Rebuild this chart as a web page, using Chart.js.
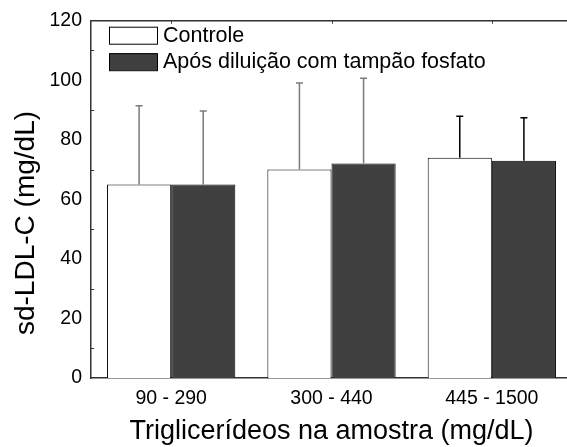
<!DOCTYPE html>
<html>
<head>
<meta charset="utf-8">
<script src="https://cdn.jsdelivr.net/npm/chart.js@4.4.1/dist/chart.umd.min.js"></script>
<style>
  html, body { margin: 0; padding: 0; background: #fff; overflow: hidden; }
  #wrap { width: 567px; height: 447px; overflow: hidden; }
</style>
</head>
<body>
<div id="wrap"><canvas id="ldlChart" width="580" height="447"></canvas></div>
<script>
// data
var categories = ['90 - 290', '300 - 440', '445 - 1500'];
var controle = [65, 70, 74];
var controleErr = [26.4, 29.1, 13.9];
var diluido = [65, 72, 73];
var diluidoErr = [24.7, 28.7, 14.4];
var yTicks = [0, 20, 40, 60, 80, 100, 120];

var errColors = ['#7a7a7a', '#7a7a7a', '#000000'];
var FONT = "'Liberation Sans', Arial, sans-serif";

// upper error bars with caps
var errorBars = {
    id: 'errorBars',
    afterDatasetsDraw: function (chart) {
        var ctx = chart.ctx;
        var yScale = chart.scales.y;
        ctx.save();
        chart.data.datasets.forEach(function (ds, i) {
            var meta = chart.getDatasetMeta(i);
            meta.data.forEach(function (bar, j) {
                var top = yScale.getPixelForValue(ds.data[j] + ds.errors[j]);
                ctx.strokeStyle = errColors[j];
                ctx.lineWidth = 1.5;
                ctx.beginPath();
                ctx.moveTo(bar.x, bar.y);
                ctx.lineTo(bar.x, top);
                ctx.moveTo(bar.x - 3.5, top);
                ctx.lineTo(bar.x + 3.5, top);
                ctx.stroke();
            });
        });
        ctx.restore();
    }
};

// legend inside the plot, minor ticks, y title
var decorations = {
    id: 'decorations',
    afterDraw: function (chart) {
        var ctx = chart.ctx;
        var area = chart.chartArea;
        var xs = chart.scales.x, ys = chart.scales.y;
        ctx.save();

        // inward ticks
        ctx.strokeStyle = '#333';
        ctx.lineWidth = 1;
        ctx.beginPath();
        for (var v = 10; v < 120; v += 20) {
            var py = Math.round(ys.getPixelForValue(v)) + 0.5;
            ctx.moveTo(area.left, py);
            ctx.lineTo(area.left + 3, py);
        }
        categories.forEach(function (c, i) {
            var px = Math.round(xs.getPixelForValue(i)) + 0.5;
            ctx.moveTo(px, area.top);
            ctx.lineTo(px, area.top + 3);
        });
        ctx.stroke();

        // legend
        ctx.font = '21.5px ' + FONT;
        ctx.textBaseline = 'middle';
        ctx.textAlign = 'left';
        chart.data.datasets.forEach(function (ds, i) {
            var bx = area.left + 18, by = area.top + 6 + i * 26.5;
            ctx.fillStyle = ds.backgroundColor;
            ctx.fillRect(bx, by, 48, 17);
            ctx.strokeStyle = '#000';
            ctx.lineWidth = 1;
            ctx.strokeRect(bx + 0.5, by + 0.5, 48, 17);
            ctx.fillStyle = '#000';
            ctx.fillText(ds.label, bx + 54, by + 9);
        });

        // y title
        ctx.translate(26, 223);
        ctx.rotate(-Math.PI / 2);
        ctx.textAlign = 'center';
        ctx.font = '28px ' + FONT;
        ctx.fillText('sd-LDL-C (mg/dL)', 0, 0);
        ctx.restore();
    }
};

var ctx = document.getElementById('ldlChart');
var chart = new Chart(ctx, {
    type: 'bar',
    data: {
        labels: categories,
        datasets: [{
            label: 'Controle',
            data: controle,
            errors: controleErr,
            backgroundColor: '#ffffff',
            borderColor: '#000000',
            borderWidth: 1,
        }, {
            label: 'Após diluição com tampão fosfato',
            data: diluido,
            errors: diluidoErr,
            backgroundColor: '#404040',
            borderColor: '#000000',
            borderWidth: 1,
        }]
    },
    options: {
        responsive: false,
        animation: false,
        devicePixelRatio: 1,
        layout: { padding: { top: 20, right: 8, bottom: 0, left: 0 } },
        datasets: { bar: { categoryPercentage: 0.8, barPercentage: 1.0 } },
        plugins: {
            legend: { display: false },
            tooltip: { enabled: false }
        },
        scales: {
            x: {
                grid: { display: false },
                border: { display: true, color: '#333', width: 1.5 },
                ticks: { color: '#000', font: { family: FONT, size: 19.5 }, padding: 1, maxRotation: 0 },
                title: {
                    display: true,
                    text: 'Triglicerídeos na amostra (mg/dL)',
                    color: '#000',
                    font: { family: FONT, size: 27, lineHeight: 1.0 },
                    padding: { top: 0, bottom: 2 }
                },
                afterFit: function (scale) { scale.height = 69; }
            },
            x2: {
                position: 'top',
                labels: categories,
                grid: { display: false },
                border: { display: true, color: '#333', width: 1.5 },
                ticks: { display: false },
                afterFit: function (scale) { scale.height = 0; }
            },
            y: {
                min: 0,
                max: 120,
                afterBuildTicks: function (scale) {
                    scale.ticks = yTicks.map(function (v) { return { value: v }; });
                },
                grid: { display: false, drawTicks: false },
                border: { display: true, color: '#333', width: 1.5 },
                ticks: { color: '#000', font: { family: FONT, size: 19.5 }, padding: 9 },
                afterFit: function (scale) { scale.width = 91; }
            }
        }
    },
    plugins: [errorBars, decorations]
});
</script>
</body>
</html>
